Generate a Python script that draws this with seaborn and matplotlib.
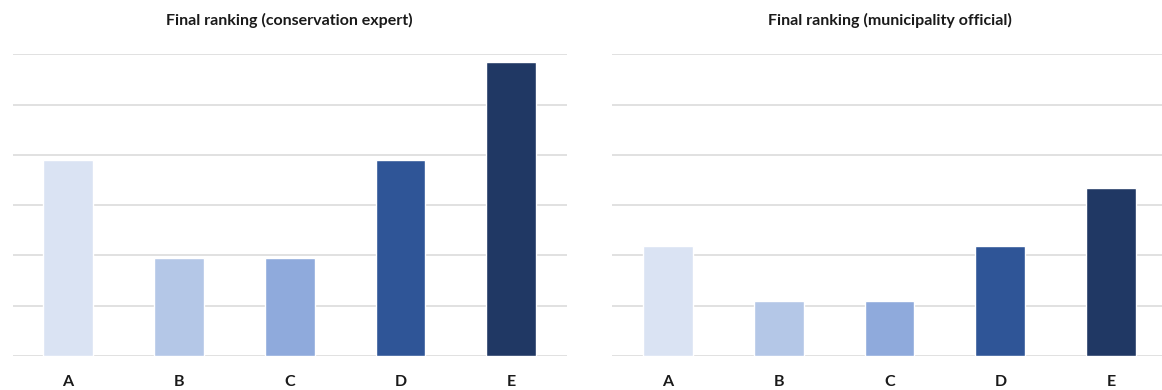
import pandas as pd
import matplotlib.pyplot as plt
import seaborn as sns

categories = ["A", "B", "C", "D", "E"]
expert_scores = [3.9, 1.95, 1.95, 3.9, 5.85]
official_scores = [2.18, 1.09, 1.09, 2.18, 3.35]
bar_colors = ["#DAE3F3", "#B4C7E7", "#8FAADC", "#2F5597", "#203864"]
titles = ["Final ranking (conservation expert)", "Final ranking (municipality official)"]

sns.set_style("white")
plt.rcParams['font.family'] = ['Lato', 'DejaVu Sans']

fig = plt.figure(figsize=(11.62, 3.9), dpi=100)
ax1 = fig.add_axes([0.0108, 0.087, 0.477, 0.774])
ax2 = fig.add_axes([0.527, 0.087, 0.477, 0.774])

palette = dict(zip(categories, bar_colors))

for ax, scores, title in zip([ax1, ax2], [expert_scores, official_scores], titles):
    df = pd.DataFrame({"option": categories, "score": scores})
    sns.barplot(data=df, x="option", y="score", hue="option", palette=palette,
                width=0.45, legend=False, ax=ax, saturation=1)
    ax.set_ylim(0, 6)
    ax.set_xlim(-0.5, 4.5)
    ax.set_yticks([0, 1, 2, 3, 4, 5, 6])
    ax.yaxis.grid(True, color="#DCDCDC", linewidth=1.2)
    ax.set_axisbelow(True)
    ax.tick_params(axis="y", left=False, labelleft=False)
    ax.tick_params(axis="x", bottom=False, pad=10)
    for lbl in ax.get_xticklabels():
        lbl.set_fontweight("bold")
        lbl.set_fontsize(11.5)
        lbl.set_color("#1a1a1a")
    ax.set_xlabel("")
    ax.set_ylabel("")
    ax.set_title(title, fontsize=11.5, fontweight="bold", color="#1a1a1a", pad=21)
    sns.despine(ax=ax, left=True, bottom=True)

fig.savefig("out.png", dpi=100)
